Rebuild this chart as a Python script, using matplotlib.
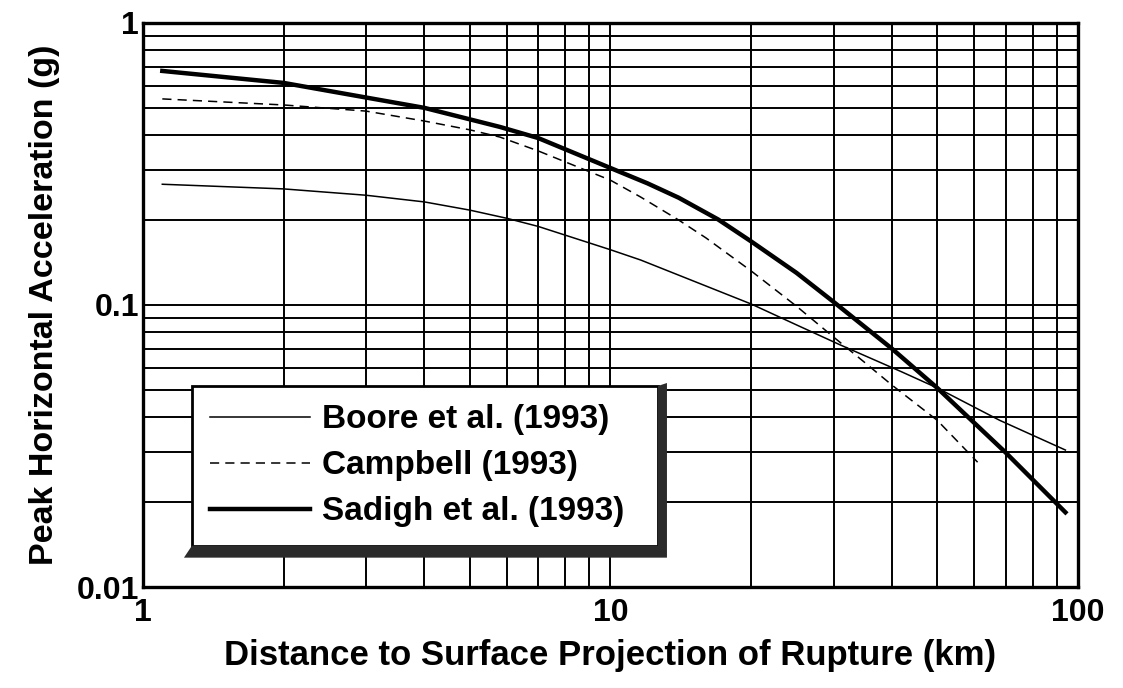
"""
Peak horizontal acceleration vs distance -- three 1993 attenuation relations.
Log-log chart with full black grid and a box legend with a drop shadow.
"""

import matplotlib
matplotlib.use("Agg")
import matplotlib.pyplot as plt
from matplotlib.patches import Polygon
from matplotlib.ticker import FixedLocator, FixedFormatter, NullFormatter
from matplotlib.transforms import IdentityTransform

# values (distance km, PGA g)
boore_x = [1.1, 2, 3, 4, 5, 6, 7, 10, 11.6, 20, 25, 31, 42, 50, 68, 94]
boore_y = [0.268, 0.258, 0.245, 0.232, 0.217, 0.203, 0.19, 0.157, 0.1444,
           0.1008, 0.085, 0.0722, 0.0579, 0.0508, 0.039, 0.0306]

campbell_x = [1.1, 2, 3, 4, 5, 5.8, 7, 10, 11.6, 14, 16, 20, 25, 30, 35, 40,
              50, 61]
campbell_y = [0.538, 0.512, 0.487, 0.449, 0.418, 0.394, 0.352, 0.277, 0.2415,
              0.2, 0.173, 0.132, 0.099, 0.077, 0.0625, 0.052, 0.039, 0.0277]

sadigh_x = [1.1, 2, 4, 5.8, 7, 10, 12, 14, 17, 20, 25, 30, 40, 50, 70, 94]
sadigh_y = [0.676, 0.613, 0.50, 0.428, 0.391, 0.306, 0.27, 0.24, 0.201, 0.168,
            0.130, 0.1026, 0.070, 0.0508, 0.030, 0.0184]

labels = ["Boore et al. (1993)", "Campbell (1993)", "Sadigh et al. (1993)"]

x_ticks = [1, 10, 100]
x_ticklabels = ["1", "10", "100"]
y_ticks = [0.01, 0.1, 1]
y_ticklabels = ["0.01", "0.1", "1"]

FONT = ["Liberation Sans", "DejaVu Sans"]

plt.rcParams["font.family"] = FONT
plt.rcParams["font.weight"] = "bold"

fig = plt.figure(figsize=(11.23, 6.88), dpi=100)
ax = fig.add_axes([0.1273, 0.1468, 0.8326, 0.8198])

ax.set_xscale("log")
ax.set_yscale("log")
ax.set_xlim(1, 100)
ax.set_ylim(0.01, 1)

ax.plot(boore_x, boore_y, color="black", lw=1.1, label=labels[0], zorder=3)
ax.plot(campbell_x, campbell_y, color="black", lw=1.1, ls=(0, (6, 4)),
        label=labels[1], zorder=3)
ax.plot(sadigh_x, sadigh_y, color="black", lw=3.2, label=labels[2], zorder=3)

ax.xaxis.set_major_locator(FixedLocator(x_ticks))
ax.xaxis.set_major_formatter(FixedFormatter(x_ticklabels))
ax.yaxis.set_major_locator(FixedLocator(y_ticks))
ax.yaxis.set_major_formatter(FixedFormatter(y_ticklabels))
ax.xaxis.set_minor_formatter(NullFormatter())
ax.yaxis.set_minor_formatter(NullFormatter())

ax.tick_params(which="both", length=0)
ax.tick_params(axis="x", pad=8)
ax.tick_params(axis="y", pad=3)
for t in ax.get_xticklabels():
    t.set_fontsize(23)
    t.set_fontweight("bold")
for t in ax.get_yticklabels():
    t.set_fontsize(23)
    t.set_fontweight("bold")

ax.grid(True, which="both", color="black", lw=1.4)
ax.set_axisbelow(True)
for sp in ax.spines.values():
    sp.set_linewidth(2.4)

ax.set_xlabel("Distance to Surface Projection of Rupture (km)",
              fontsize=25, fontweight="bold", labelpad=8)
ax.set_ylabel("Peak Horizontal Acceleration (g)",
              fontsize=24.5, fontweight="bold", labelpad=12)

leg = ax.legend(loc="upper left", bbox_to_anchor=(0.0524, 0.3564, 0.4984, 0.0),
                mode="expand", fancybox=False, framealpha=1, edgecolor="black",
                prop={"family": FONT, "weight": "bold", "size": 24},
                handlelength=3.0, handletextpad=0.35, labelspacing=0.45,
                borderpad=0.55, borderaxespad=0)
leg.get_frame().set_linewidth(2.0)
leg.set_zorder(5)

# drop shadow along the bottom and right of the legend box
fig.canvas.draw()
bb = leg.get_frame().get_window_extent()
x0, y0, x1, y1 = bb.x0, bb.y0, bb.x1, bb.y1
shadow = Polygon([(x0 - 8, y0 - 12), (x1 + 9, y0 - 12), (x1 + 9, y1 + 3),
                  (x1, y1), (x1, y0), (x0, y0)],
                 closed=True, transform=IdentityTransform(),
                 facecolor="#2b2b2b", edgecolor="none", zorder=10)
fig.add_artist(shadow)

fig.savefig("out.png", dpi=100)
